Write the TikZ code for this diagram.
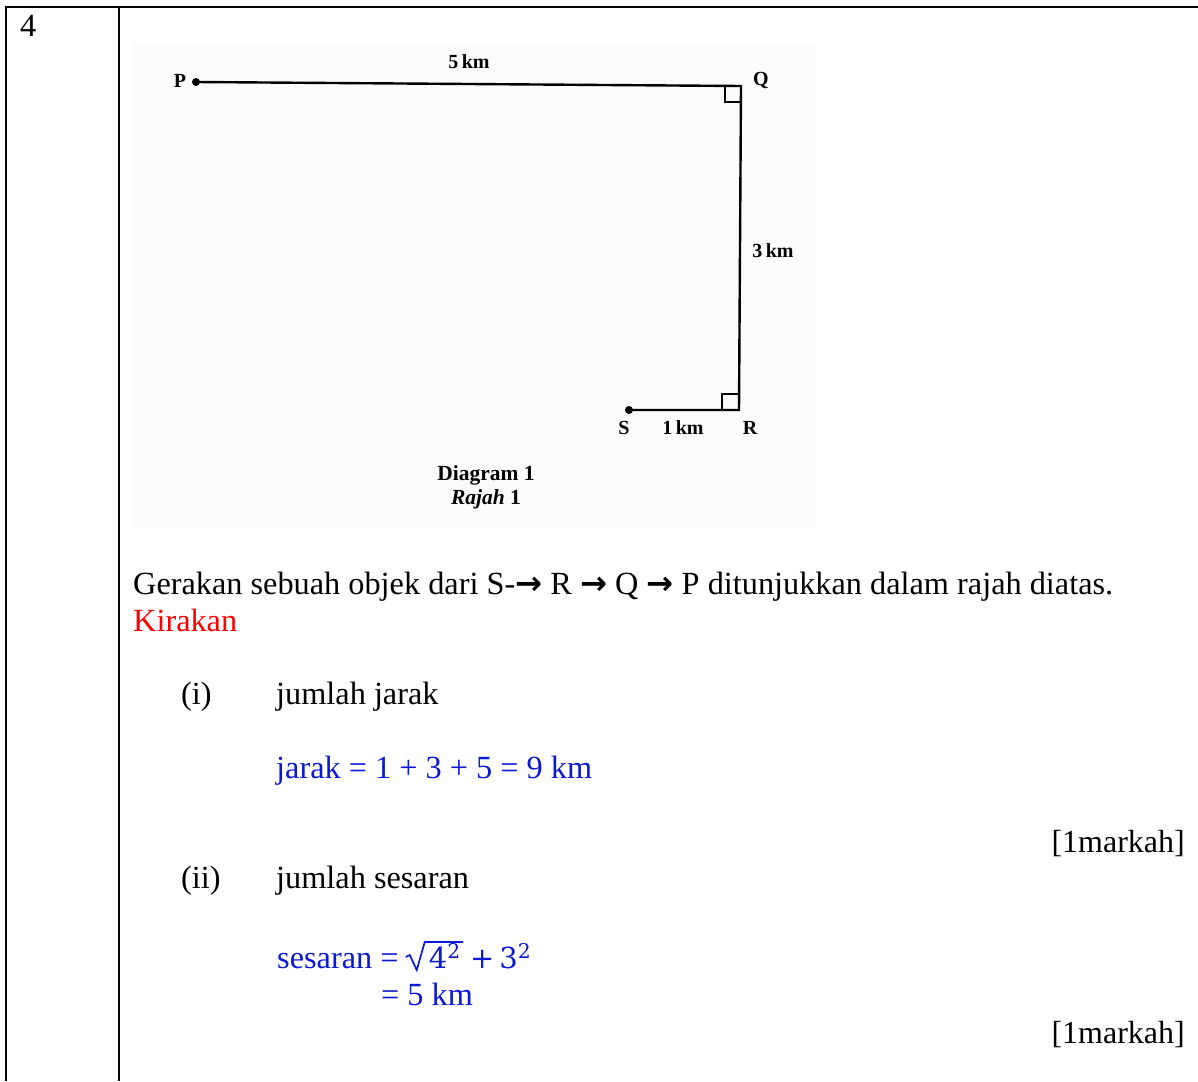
\documentclass[tikz,border=0pt]{standalone}
\usepackage{fontspec}
\usetikzlibrary{calc}
\setmainfont{Liberation Serif}
\newfontfamily\dejavu{DejaVu Sans}
\newfontfamily\mathlike{DejaVu Serif}
\definecolor{ansblue}{RGB}{12,24,210}
\definecolor{photobg}{RGB}{251,251,251}
\newcommand{\rarr}{{\dejavu\bfseries →}}
\begin{document}
\begin{tikzpicture}[x=1pt,y=-1pt,
  txt/.style={inner sep=0pt, anchor=base west, font=\fontsize{32.3}{37}\selectfont},
  rtxt/.style={inner sep=0pt, anchor=base east, font=\fontsize{32}{37}\selectfont},
  mtxt/.style={inner sep=0pt, anchor=base west, text=ansblue, font=\mathlike\fontsize{29}{32}\selectfont},
  lbl/.style={inner sep=0pt, font=\fontsize{20}{22}\selectfont\bfseries},
  rule/.style={line width=2.2pt},
  seg/.style={line width=2.4pt},
  dot/.style={circle, fill=black, inner sep=0pt, minimum size=8pt}]
\useasboundingbox (0,0) rectangle (1198,1081);
% table rules
\coordinate (tl) at (6,7);
\coordinate (tr) at (1198,7);
\coordinate (bl) at (6,1081);
\coordinate (ml) at (119,7);
\coordinate (mb) at (119,1081);
\draw[rule] (tr) -- (tl) -- (bl);
\draw[rule] (ml) -- (mb);
\node[txt] (num) at (20,37) {4};
% photo background
\fill[photobg] (133,43) rectangle (815,528);
% diagram
\node[dot] (P) at (196,82) {};
\coordinate (Q) at (741,86);
\coordinate (R) at (739,410);
\node[dot] (S) at (629,410) {};
\draw[seg] (P.center) -- (Q) -- (R) -- (S.center);
\draw[line width=2pt] (Q) ++(-16,0) coordinate (q1) -- ++(0,16) coordinate (q2) -- ++(16,0);
\draw[line width=2pt] (R) ++(-17,0) coordinate (r1) -- ++(0,-16) coordinate (r2) -- ++(17,0);
\node[lbl] (Pl) at (180,81) {P};
\node[lbl] (Ql) at (761,80) {Q};
\node[lbl] (Sl) at (624,428) {S};
\node[lbl] (Rl) at (750,428) {R};
\node[lbl] (d5) at (469,62) {5\,km};
\node[lbl] (d3) at (773,251) {3\,km};
\node[lbl] (d1) at (683,428) {1\,km};
\node[lbl, font=\fontsize{21.5}{24}\selectfont\bfseries, align=center] (cap) at (486,487) {Diagram 1\\ \textit{Rajah} 1};
% question text
\node[txt] (q) at (133,594) {Gerakan sebuah objek dari S-\rarr{} R \rarr{} Q \rarr{} P ditunjukkan dalam rajah diatas.};
\node[txt, text=red] (k) at (133,631) {Kirakan};
\node[txt] (i) at (181,704) {(i)};
\node[txt] (it) at (276,704) {jumlah jarak};
\node[txt, text=ansblue] (ja) at (276,778) {jarak = 1 + 3 + 5 = 9 km};
\node[rtxt] (m1) at (1185,852) {[1markah]};
\node[txt] (ii) at (181,888) {(ii)};
\node[txt] (iit) at (276,888) {jumlah sesaran};
\node[txt, text=ansblue] (se) at (277,968) {sesaran =};
\node[mtxt] (r4) at ($(se.base east)+(30,0)$) {4\textsuperscript{2}};
\draw[ansblue, line width=1.7pt, line join=miter]
  ($(r4.base west)+(-23,-11)$) -- ++(4,-2)
  -- ($(r4.base west)+(-12,2)$)
  -- ($(r4.base west)+(-4,-26)$)
  -- ($(r4.base east)+(2,-26)$);
\node[mtxt] (p3) at ($(r4.base east)+(9,0)$) {+\,3\textsuperscript{2}};
\node[txt, text=ansblue] (se2) at (381,1005) {= 5 km};
\node[rtxt] (m2) at (1185,1043) {[1markah]};
\end{tikzpicture}
\end{document}
